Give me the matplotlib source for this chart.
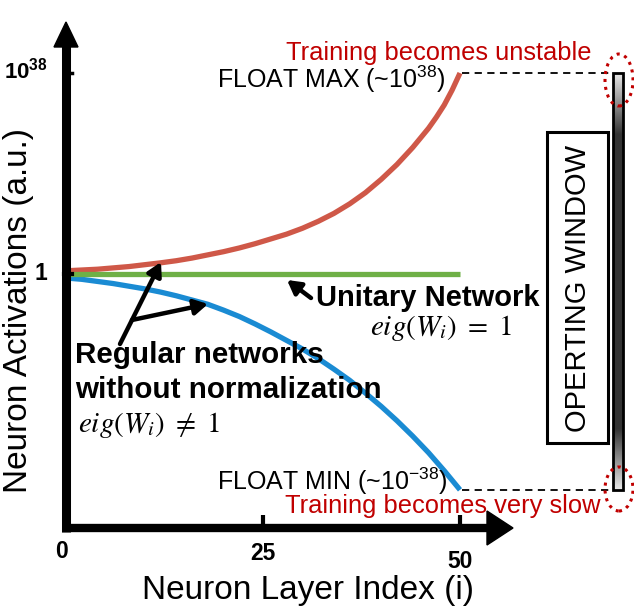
import matplotlib
matplotlib.use("Agg")
import matplotlib.pyplot as plt
import numpy as np
from matplotlib.patches import Polygon, Rectangle, Ellipse

plt.rcParams['font.family'] = ['Liberation Sans', 'DejaVu Sans']
plt.rcParams['mathtext.fontset'] = 'custom'
plt.rcParams['mathtext.rm'] = 'Liberation Sans'
plt.rcParams['mathtext.bf'] = 'Liberation Sans:bold'
plt.rcParams['mathtext.it'] = 'Liberation Sans:italic'

# ---- data (layer index vs log10 activation, conceptual) ----
up_layers = [0, 2, 4, 6, 8, 10, 12, 14, 16, 18, 20, 22, 24, 26, 28, 30, 32, 34, 36, 38,
             40, 42, 44, 46, 47, 48, 49, 50]
regular_up = [0.6, 0.75, 0.9, 1.15, 1.4, 1.75, 2.1, 2.5, 3.0, 3.6, 4.2, 4.9, 5.7, 6.6, 7.5,
              8.6, 9.9, 11.4, 13.2, 15.3, 17.8, 20.6, 23.8, 27.4, 29.5, 31.8, 34.6, 37.8]
down_layers = [0, 2, 4, 6, 8, 10, 12, 14, 16, 18, 20, 22, 24, 26, 28, 30, 32, 34, 36, 38,
               40, 42, 44, 46, 48, 49, 50]
regular_down = [-0.75, -1.0, -1.4, -1.8, -2.3, -2.8, -3.4, -4.1, -4.9, -5.7, -6.8, -8.0,
                -9.4, -10.9, -12.5, -14.1, -15.9, -17.9, -20.0, -22.4, -24.9, -27.6, -30.5,
                -33.6, -37.0, -38.8, -40.6]
unitary_layers = [0, 50]
unitary = [0.0, 0.0]
x_ticks = [0, 25, 50]
x_tick_labels = ['0', '25', '50']
float_max = 37.8
float_min = -40.6

W, H = 634, 608
fig = plt.figure(figsize=(W / 100, H / 100), dpi=100)
ax = fig.add_axes([0, 0, 1, 1])

SX, OX = 7.88, 66
SY, OY = 5.316, 274
def X(px):
    return (px - OX) / SX
def Y(py):
    return (OY - py) / SY

ax.set_xlim(X(0), X(W))
ax.set_ylim(Y(H), Y(0))
ax.axis('off')

RED = '#cf5848'
BLUE = '#1a8bd3'
GREEN = '#6fb047'
DRED = '#c00000'

# curves
ax.plot(up_layers, regular_up, color=RED, lw=3.8, solid_capstyle='butt', zorder=3)
ax.plot(down_layers, regular_down, color=BLUE, lw=3.8, solid_capstyle='butt', zorder=3)
ax.plot(unitary_layers, unitary, color=GREEN, lw=3.8, solid_capstyle='butt', zorder=3)

# axes (thick arrows)
ax.plot([X(66), X(66)], [Y(532), Y(44)], color='black', lw=6.5, solid_capstyle='butt', zorder=4)
ax.add_patch(Polygon([(X(66), Y(22)), (X(54), Y(47)), (X(78), Y(47))], closed=True, color='black', zorder=4))
ax.plot([X(62), X(490)], [Y(528), Y(528)], color='black', lw=6.0, solid_capstyle='butt', zorder=4)
ax.add_patch(Polygon([(X(513), Y(528)), (X(487), Y(511)), (X(487), Y(545))], closed=True, color='black', zorder=4))

# ticks
for t in x_ticks[1:]:
    ax.plot([t, t], [Y(528), Y(515)], color='black', lw=3, solid_capstyle='butt', zorder=4)
ax.plot([X(66), X(72)], [float_max, float_max], color='black', lw=2.5, zorder=4)
ax.plot([X(64), X(72)], [0, 0], color='black', lw=3, zorder=5)

# tick labels
tick_y = [551, 554, 562]
for t, lab, ty in zip(x_ticks, x_tick_labels, tick_y):
    ax.text(t - 0.6 if t == 0 else t, Y(ty), lab, ha='center', va='center', fontsize=16.5, fontweight='bold')
ax.text(X(47.5), 0, '1', ha='right', va='center', fontsize=16.5, fontweight='bold')
ax.text(X(48), Y(79), r'10$^{\mathbf{38}}$', ha='right', va='baseline', fontsize=16, fontweight='bold')

# axis labels
ax.text(X(308), Y(590), 'Neuron Layer Index (i)', ha='center', va='center', fontsize=24)
ax.text(X(18.5), Y(311), 'Neuron Activations (a.u.)', ha='center', va='center', fontsize=24, rotation=90)

# dashed limit lines
ax.plot([X(462), X(613)], [float_max, float_max], color='black', lw=1.3, ls=(0, (4, 3)), zorder=2)
ax.plot([X(462), X(613)], [float_min, float_min], color='black', lw=1.3, ls=(0, (4, 3)), zorder=2)

# operating window bar (gradient)
grad = np.concatenate([np.linspace(0.9, 0.2, 30), np.full(140, 0.2), np.linspace(0.2, 0.9, 30)])[:, None]
ax.imshow(grad, cmap='gray', vmin=0, vmax=1, extent=[X(613), X(623), float_min, float_max],
          aspect='auto', zorder=3, interpolation='bilinear')
ax.add_patch(Rectangle((X(613), float_min), X(623) - X(613), float_max - float_min,
                       fill=False, edgecolor='black', lw=2, zorder=4))
ax.add_patch(Ellipse((X(619), Y(80)), 28 / SX, 52 / SY, fill=False, edgecolor=DRED, lw=2.2, ls=(0, (1, 1.6)), zorder=5))
ax.add_patch(Ellipse((X(619), Y(489)), 28 / SX, 44 / SY, fill=False, edgecolor=DRED, lw=2.2, ls=(0, (1, 1.6)), zorder=5))

# operating window box
ax.add_patch(Rectangle((X(547), Y(443)), X(608) - X(547), Y(132) - Y(443), fill=False,
                       edgecolor='black', lw=2.2, zorder=4))
ax.text(X(578), Y(288), 'OPERTING WINDOW', rotation=90, ha='center', va='center', fontsize=21)

# annotations
ax.text(X(286), Y(60), 'Training becomes unstable', color=DRED, fontsize=18.4, ha='left', va='baseline')
ax.text(X(217), Y(88), r'FLOAT MAX (~10$^{\mathrm{38}}$)', color='black', fontsize=18, ha='left', va='baseline')
ax.text(X(217), Y(490), r'FLOAT MIN (~10$^{\mathrm{-38}}$)', color='black', fontsize=18, ha='left', va='baseline')
ax.text(X(285), Y(513), 'Training becomes very slow', color=DRED, fontsize=18.4, ha='left', va='baseline')

ax.text(X(316), Y(306), 'Unitary Network', fontsize=21, fontweight='bold', ha='left', va='baseline')
ax.text(X(370), Y(335), r'$eig(W_i)\ =\ 1$', fontsize=21, ha='left', va='baseline', math_fontfamily='stix')
ax.text(X(75), Y(363), 'Regular networks', fontsize=21.3, fontweight='bold', ha='left', va='baseline')
ax.text(X(75), Y(398), 'without normalization', fontsize=21.3, fontweight='bold', ha='left', va='baseline')
ax.text(X(78), Y(432), r'$eig(W_i)\ \neq\ 1$', fontsize=21, ha='left', va='baseline', math_fontfamily='stix')

arrow_kw = dict(arrowstyle='-|>,head_length=0.8,head_width=0.45', color='black', lw=3.2, shrinkA=0, shrinkB=0)
ax.annotate('', xy=(X(161), Y(262)), xytext=(X(120), Y(344)), arrowprops=arrow_kw, zorder=6)
ax.annotate('', xy=(X(208), Y(304)), xytext=(X(132), Y(320)), arrowprops=arrow_kw, zorder=6)
ax.annotate('', xy=(X(287), Y(280)), xytext=(X(311), Y(298)), arrowprops=arrow_kw, zorder=6)

fig.savefig('out.png', dpi=100)
